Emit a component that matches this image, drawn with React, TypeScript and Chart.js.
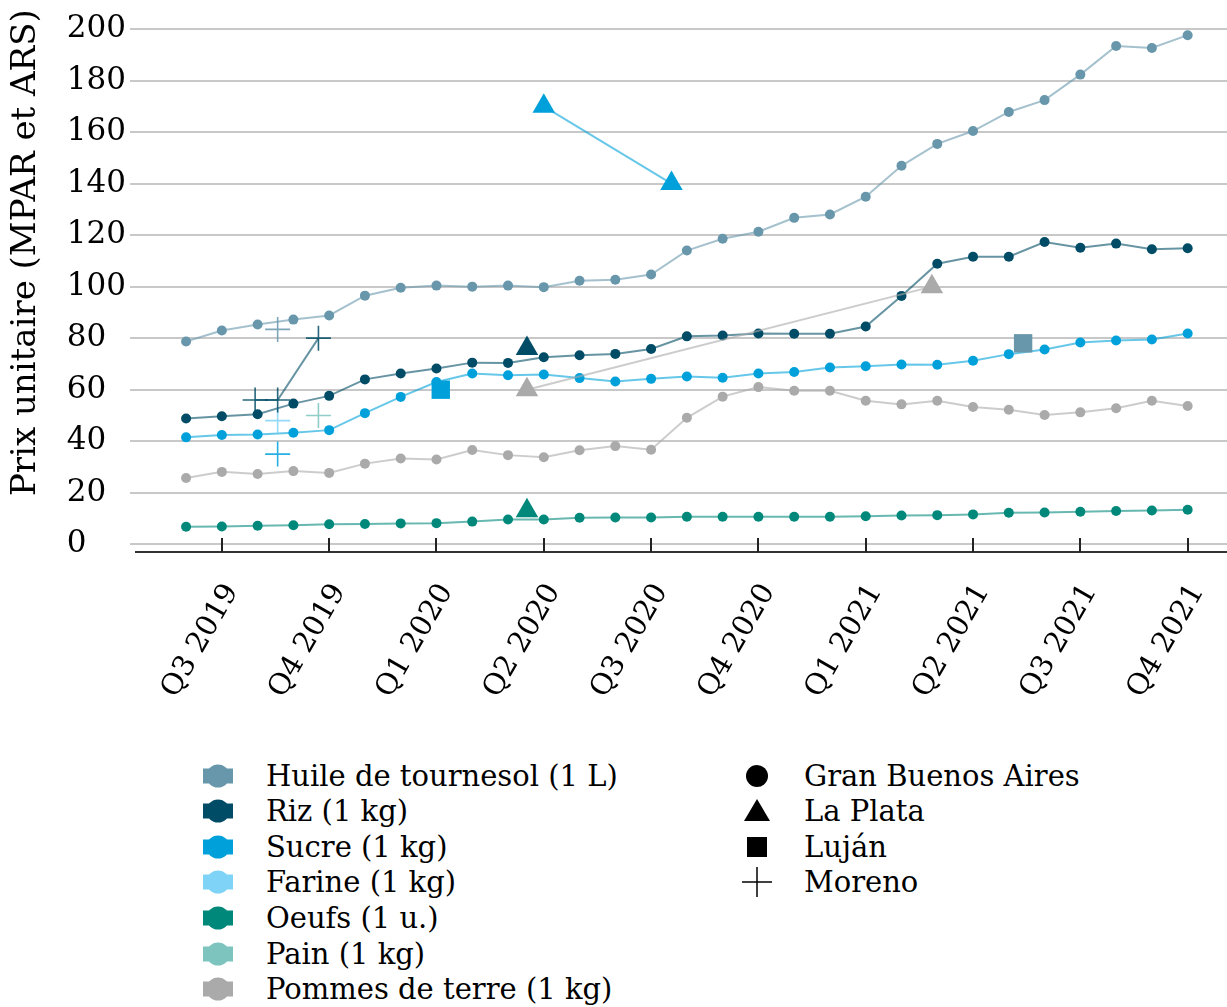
import React, { useEffect, useRef } from "react";
import { Chart, registerables } from "chart.js";

Chart.register(...registerables);

// x positions in months counted from July 2019 (0 = Q3 2019)
const monthPositions = [-1, 0, 1, 2, 3, 4, 5, 6, 7, 8, 9, 10, 11, 12, 13, 14, 15, 16, 17, 18, 19, 20, 21, 22, 23, 24, 25, 26, 27];
const quarterPositions = [0, 3, 6, 9, 12, 15, 18, 21, 24, 27];
const quarterLabels = ["Q3 2019", "Q4 2019", "Q1 2020", "Q2 2020", "Q3 2020", "Q4 2020", "Q1 2021", "Q2 2021", "Q3 2021", "Q4 2021"];
const yTickValues = [0, 20, 40, 60, 80, 100, 120, 140, 160, 180, 200];

// Gran Buenos Aires (monthly)
const huileGBA = [78.7, 83, 85.3, 87.2, 88.8, 96.5, 99.6, 100.4, 100, 100.4, 99.8, 102.3, 102.7, 104.7, 114, 118.6, 121.3, 126.7, 128, 134.9, 146.9, 155.4, 160.4, 167.8, 172.4, 182.3, 193.4, 192.6, 197.6];
const rizGBA = [48.8, 49.7, 50.5, 54.6, 57.6, 64, 66.3, 68.2, 70.5, 70.4, 72.6, 73.4, 73.9, 75.8, 80.7, 81, 81.8, 81.7, 81.7, 84.5, 96.4, 108.9, 111.6, 111.6, 117.3, 115.1, 116.7, 114.5, 114.9];
const sucreGBA = [41.5, 42.4, 42.6, 43.3, 44.3, 50.9, 57.2, 63, 66.3, 65.6, 65.9, 64.5, 63.2, 64.2, 65.1, 64.6, 66.3, 66.9, 68.6, 69.1, 69.8, 69.7, 71.2, 73.8, 75.6, 78.3, 79.1, 79.5, 81.8];
const oeufsGBA = [6.8, 6.9, 7.2, 7.4, 7.8, 7.9, 8.1, 8.2, 8.8, 9.6, 9.6, 10.3, 10.4, 10.4, 10.7, 10.7, 10.7, 10.7, 10.7, 10.9, 11.2, 11.3, 11.6, 12.2, 12.3, 12.6, 12.9, 13.1, 13.4];
const pommesGBA = [25.7, 28.1, 27.3, 28.4, 27.7, 31.3, 33.3, 32.9, 36.6, 34.6, 33.8, 36.5, 38.1, 36.7, 49.1, 57.3, 61.0, 59.6, 59.6, 55.7, 54.3, 55.7, 53.3, 52.2, 50.2, 51.2, 52.8, 55.7, 53.7];

// La Plata
const sucreLaPlataX = [9.0, 12.57];
const sucreLaPlataY = [170, 140];
const rizLaPlataX = [8.53];
const rizLaPlataY = [76];
const oeufsLaPlataX = [8.53];
const oeufsLaPlataY = [13];
const pommesLaPlataX = [8.53, 19.85];
const pommesLaPlataY = [60, 100];

// Luján
const sucreLujanX = [6.12];
const sucreLujanY = [60];
const huileLujanX = [22.4];
const huileLujanY = [78];

// Moreno
const huileMorenoX = [1.56];
const huileMorenoY = [83.4];
const rizMorenoX = [0.93, 1.56, 2.7];
const rizMorenoY = [56, 56, 80];
const farineMorenoX = [1.56];
const farineMorenoY = [48];
const painMorenoX = [2.7];
const painMorenoY = [50];
const sucreMorenoX = [1.56];
const sucreMorenoY = [35];

const yAxisTitle = "Prix unitaire (MPAR et ARS)";
const productNames = ["Huile de tournesol (1 L)", "Riz (1 kg)", "Sucre (1 kg)", "Farine (1 kg)", "Oeufs (1 u.)", "Pain (1 kg)", "Pommes de terre (1 kg)"];
const locationNames = ["Gran Buenos Aires", "La Plata", "Luján", "Moreno"];

const C = {
  huile: "#6897ab",
  riz: "#004c66",
  sucre: "#00a1db",
  farine: "#7fd3f7",
  oeufs: "#00897b",
  pain: "#7dc4bf",
  pommes: "#aaaaaa",
};
const productColors = [C.huile, C.riz, C.sucre, C.farine, C.oeufs, C.pain, C.pommes];

const FONT = "'DejaVu Serif', serif";
const W = 1227;
const H = 745;

function alpha(hex: string, a: number) {
  const n = parseInt(hex.slice(1), 16);
  return `rgba(${(n >> 16) & 255},${(n >> 8) & 255},${n & 255},${a})`;
}

function pts(xs: number[], ys: number[]) {
  return xs.map((x, i) => ({ x, y: ys[i] }));
}

function ds(label: string, xs: number[], ys: number[], color: string, style: string, radius: number) {
  const isCross = style === "cross";
  return {
    label,
    data: pts(xs, ys),
    showLine: true,
    fill: false,
    tension: 0,
    borderColor: alpha(color, 0.6),
    borderWidth: 2,
    pointStyle: style,
    pointRadius: radius,
    pointBackgroundColor: color,
    pointBorderColor: isCross ? alpha(color, 0.85) : color,
    pointBorderWidth: isCross ? 1.6 : 0,
  };
}

const tickMarks = {
  id: "tickMarks",
  afterDraw(chart: any) {
    const { ctx, chartArea, scales } = chart;
    const xs = scales.x;
    ctx.save();
    ctx.strokeStyle = "#222";
    ctx.lineWidth = 2;
    xs.ticks.forEach((t: any) => {
      const px = Math.round(xs.getPixelForValue(t.value));
      ctx.beginPath();
      ctx.moveTo(px, chartArea.bottom - 14);
      ctx.lineTo(px, chartArea.bottom);
      ctx.stroke();
    });
    ctx.restore();
  },
};

function ProductSymbol({ color }: { color: string }) {
  return (
    <svg width="32" height="26" viewBox="0 0 32 26">
      <rect x="1" y="5.5" width="30" height="15" fill={color} />
      <circle cx="16" cy="13" r="11.5" fill={color} />
    </svg>
  );
}

function LocationSymbol({ kind }: { kind: number }) {
  return (
    <svg width="32" height="32" viewBox="0 0 32 32">
      {kind === 0 && <circle cx="16" cy="16" r="11" fill="#000" />}
      {kind === 1 && <polygon points="16,4 29,26 3,26" fill="#000" />}
      {kind === 2 && <rect x="6" y="6" width="20" height="20" fill="#000" />}
      {kind === 3 && (
        <g stroke="#000" strokeWidth="1.5">
          <line x1="16" y1="1" x2="16" y2="31" />
          <line x1="1" y1="16" x2="31" y2="16" />
        </g>
      )}
    </svg>
  );
}

export default function App() {
  const ref = useRef<HTMLCanvasElement | null>(null);

  useEffect(() => {
    document.body.style.margin = "0";
    document.body.style.overflow = "hidden";
    const canvas = ref.current;
    if (!canvas) return;

    const datasets: any[] = [
      ds("Huile - Moreno", huileMorenoX, huileMorenoY, C.huile, "cross", 12.5),
      ds("Riz - Moreno", rizMorenoX, rizMorenoY, C.riz, "cross", 12.5),
      ds("Farine - Moreno", farineMorenoX, farineMorenoY, C.farine, "cross", 12.5),
      ds("Pain - Moreno", painMorenoX, painMorenoY, C.pain, "cross", 12.5),
      ds("Sucre - Moreno", sucreMorenoX, sucreMorenoY, C.sucre, "cross", 12.5),
      ds("Sucre - Luján", sucreLujanX, sucreLujanY, C.sucre, "rect", 13),
      ds("Huile - Luján", huileLujanX, huileLujanY, C.huile, "rect", 13),
      ds("Sucre - La Plata", sucreLaPlataX, sucreLaPlataY, C.sucre, "triangle", 13),
      ds("Riz - La Plata", rizLaPlataX, rizLaPlataY, C.riz, "triangle", 13),
      ds("Oeufs - La Plata", oeufsLaPlataX, oeufsLaPlataY, C.oeufs, "triangle", 13),
      ds("Pommes - La Plata", pommesLaPlataX, pommesLaPlataY, C.pommes, "triangle", 13),
      ds("Huile - GBA", monthPositions, huileGBA, C.huile, "circle", 5),
      ds("Riz - GBA", monthPositions, rizGBA, C.riz, "circle", 5),
      ds("Sucre - GBA", monthPositions, sucreGBA, C.sucre, "circle", 5),
      ds("Oeufs - GBA", monthPositions, oeufsGBA, C.oeufs, "circle", 5),
      ds("Pommes - GBA", monthPositions, pommesGBA, C.pommes, "circle", 5),
    ];

    const chart = new Chart(canvas, {
      type: "line",
      data: { datasets },
      plugins: [tickMarks],
      options: {
        animation: false,
        responsive: false,
        events: [],
        layout: { autoPadding: false, padding: { top: 29, left: 0, right: 0, bottom: 0 } },
        plugins: { legend: { display: false }, tooltip: { enabled: false } },
        scales: {
          x: {
            type: "linear",
            min: -2.4,
            max: 28.1,
            afterBuildTicks: (s: any) => {
              s.ticks = quarterPositions.map((v) => ({ value: v }));
            },
            afterFit: (s: any) => {
              s.height = H - 552;
              s.paddingLeft = 0;
              s.paddingRight = 0;
            },
            ticks: {
              autoSkip: false,
              minRotation: 60,
              maxRotation: 60,
              padding: 26,
              labelOffset: 10,
              color: "#000",
              font: { family: FONT, size: 29 },
              callback: (v: any) => quarterLabels[quarterPositions.indexOf(Number(v))] ?? "",
            },
            grid: { display: false, drawTicks: false },
            border: { display: true, color: "#333", width: 2 },
          },
          y: {
            type: "linear",
            min: -3,
            max: 200,
            afterBuildTicks: (s: any) => {
              s.ticks = yTickValues.map((v) => ({ value: v }));
            },
            afterFit: (s: any) => {
              s.width = 136;
            },
            ticks: {
              padding: 4,
              color: "#000",
              font: { family: FONT, size: 31 },
              callback: (v: any) => {
                const t = String(v);
                return t + "\u2007".repeat(Math.max(0, 3 - t.length));
              },
            },
            grid: { color: "#c8c8c8", lineWidth: 2, tickLength: 6, drawTicks: true },
            border: { display: false },
            title: {
              display: true,
              text: "       " + yAxisTitle,
              color: "#000",
              align: "center",
              font: { family: FONT, size: 34 },
              padding: { top: 6, bottom: 0 },
            },
          },
        },
      } as any,
    });
    return () => chart.destroy();
  }, []);

  const rowTop = 775.5;
  const rowStep = 35.6;

  return (
    <div style={{ position: "absolute", left: 0, top: 0, width: W, height: 1007, overflow: "hidden", background: "#fff", fontFamily: FONT }}>
      <canvas ref={ref} width={W} height={H} style={{ position: "absolute", left: 0, top: 0, width: W, height: H }} />
      {productNames.map((name, i) => {
        const cy = rowTop + rowStep * i;
        return (
          <React.Fragment key={name}>
            <div style={{ position: "absolute", left: 218 - 16, top: cy - 13, width: 32, height: 26, lineHeight: 0 }}>
              <ProductSymbol color={productColors[i]} />
            </div>
            <div style={{ position: "absolute", left: 266, top: cy - 18, height: 36, lineHeight: "36px", fontSize: 29, color: "#000", whiteSpace: "nowrap" }}>
              {name}
            </div>
          </React.Fragment>
        );
      })}
      {locationNames.map((name, i) => {
        const cy = rowTop + rowStep * i;
        return (
          <React.Fragment key={name}>
            <div style={{ position: "absolute", left: 757 - 16, top: cy - 16, width: 32, height: 32, lineHeight: 0 }}>
              <LocationSymbol kind={i} />
            </div>
            <div style={{ position: "absolute", left: 804, top: cy - 18, height: 36, lineHeight: "36px", fontSize: 29, color: "#000", whiteSpace: "nowrap" }}>
              {name}
            </div>
          </React.Fragment>
        );
      })}
    </div>
  );
}
